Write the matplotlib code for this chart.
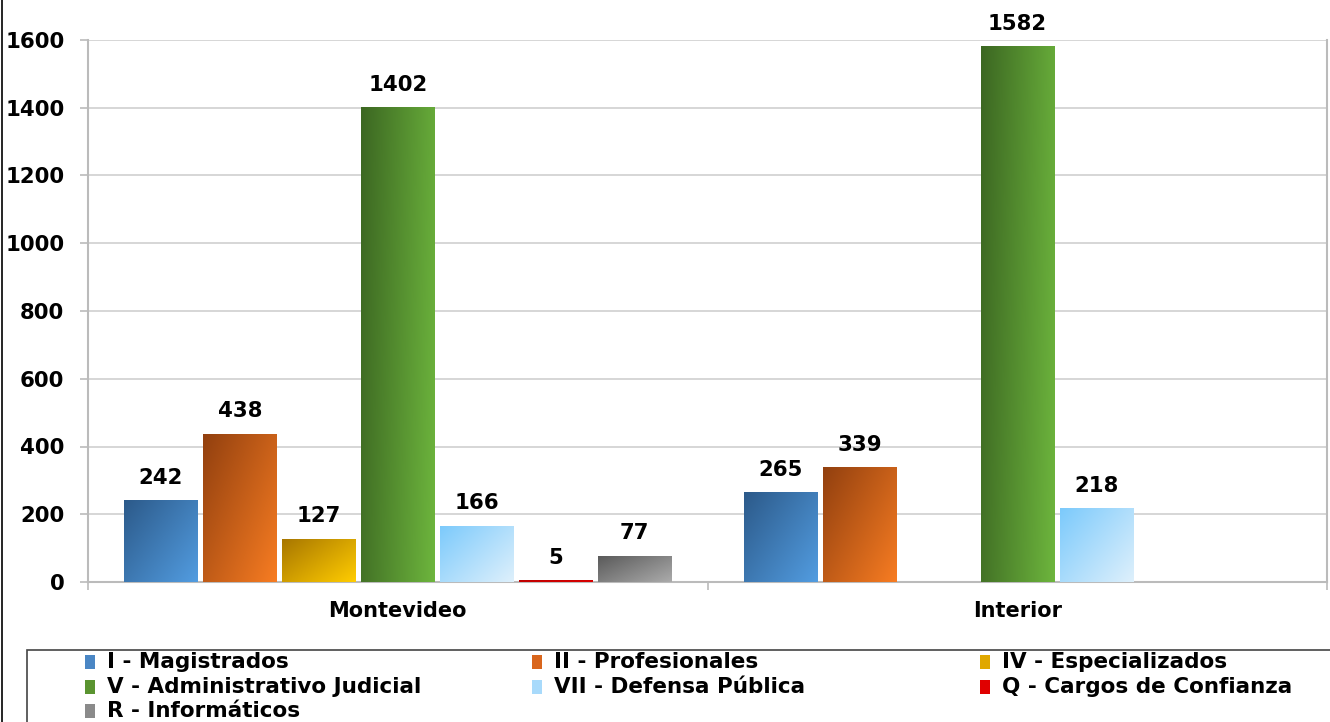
import matplotlib
matplotlib.use('Agg')
import matplotlib.pyplot as plt
import numpy as np
from matplotlib.patches import Rectangle
from matplotlib.colors import LinearSegmentedColormap
from matplotlib.lines import Line2D

categories = ['Montevideo', 'Interior']
series = ['I - Magistrados', 'II - Profesionales', 'IV - Especializados',
          'V - Administrativo Judicial', 'VII - Defensa Pública',
          'Q - Cargos de Confianza', 'R - Informáticos']
montevideo = [242, 438, 127, 1402, 166, 5, 77]
interior = [265, 339, np.nan, 1582, 218, np.nan, np.nan]
yticks = [0, 200, 400, 600, 800, 1000, 1200, 1400, 1600]

# (dark top-left, light bottom-right, horizontal-only)
grads = [('#2C5A8A', '#529CE0', False),
         ('#92400F', '#F77C22', False),
         ('#A77600', '#FFCC00', False),
         ('#3C6722', '#6DB53D', True),
         ('#7CCAFB', '#DEF0FC', False),
         ('#B80000', '#E00000', False),
         ('#595959', '#ABABAB', False)]
legend_cols = ['#4A86C4', '#D9661D', '#E0A800', '#5A9430', '#A8DAFB', '#E00000', '#8A8A8A']

W, H = 1330, 722
fig = plt.figure(figsize=(W / 100, H / 100), dpi=100)
fig.patch.set_facecolor('white')
ax = fig.add_axes([88 / W, 1 - 582 / H, (1327 - 88) / W, (582 - 40) / H])

FONT = 'DejaVu Sans'
pitch = 0.1274
width = 0.118
x = np.arange(len(categories))
u = np.linspace(0, 1, 64)
U, V = np.meshgrid(u, u)

for i, name in enumerate(series):
    vals = [montevideo[i], interior[i]]
    bars = ax.bar(x + (i - 3) * pitch, vals, width, facecolor='none',
                  edgecolor='none', zorder=3)
    c0, c1, horiz = grads[i]
    cmap = LinearSegmentedColormap.from_list('g%d' % i, [c0, c1])
    T = 0.85 * U + 0.15 * V if horiz else 0.55 * U + 0.45 * V
    for rect, v in zip(bars, vals):
        if np.isnan(v):
            continue
        x0, w, h = rect.get_x(), rect.get_width(), rect.get_height()
        im = ax.imshow(T, cmap=cmap, extent=(x0, x0 + w, 0, h), origin='upper',
                       aspect='auto', zorder=3, interpolation='bilinear')
        im.set_clip_path(rect)
        ax.annotate(f'{int(v)}', (x0 + w / 2, h), xytext=(0, 9),
                    textcoords='offset points', ha='center', va='bottom',
                    fontsize=15.3, fontweight='bold', family=FONT,
                    annotation_clip=False)

ax.set_xlim(-0.5, 1.5)
ax.set_ylim(0, 1600)
ax.set_yticks(yticks)
ax.set_yticklabels([str(t) for t in yticks], fontsize=15.3, fontweight='bold', family=FONT)
ax.set_xticks(x)
ax.set_xticklabels(categories, fontsize=15, fontweight='bold', family=FONT)
ax.set_xticks([-0.5, 0.5, 1.5], minor=True)
ax.tick_params(axis='x', which='major', length=0, pad=14)
ax.tick_params(axis='x', which='minor', length=6, color='#BBBBBB', width=1.2)
ax.tick_params(axis='y', length=6, color='#BBBBBB', width=1.2, pad=11)
ax.grid(axis='y', color='#D6D6D6', linewidth=1.4, zorder=0)
ax.set_axisbelow(True)
ax.spines['top'].set_visible(False)
for s in ['left', 'right', 'bottom']:
    ax.spines[s].set_color('#BBBBBB')
    ax.spines[s].set_linewidth(1.5)

# outer border on the left
fig.add_artist(Line2D([2 / W, 2 / W], [0, 1], color='black', lw=1.2,
                      transform=fig.transFigure))

# legend box
fig.add_artist(Rectangle((27 / W, -0.01), (W - 27) / W + 0.01, (H - 650) / H + 0.01,
                         transform=fig.transFigure, facecolor='white',
                         edgecolor='#444444', lw=1.2))
col_x = [85, 532, 980]
row_y = [662, 687, 711]
for i, name in enumerate(series):
    r, c = divmod(i, 3)
    fig.add_artist(Rectangle((col_x[c] / W, 1 - (row_y[r] + 7) / H), 10 / W, 14 / H,
                             transform=fig.transFigure, facecolor=legend_cols[i],
                             edgecolor='none'))
    fig.text((col_x[c] + 22) / W, 1 - row_y[r] / H, name, ha='left', va='center',
             fontsize=15.5, fontweight='bold', family=FONT)

fig.savefig('out.png', dpi=100, facecolor='white')
